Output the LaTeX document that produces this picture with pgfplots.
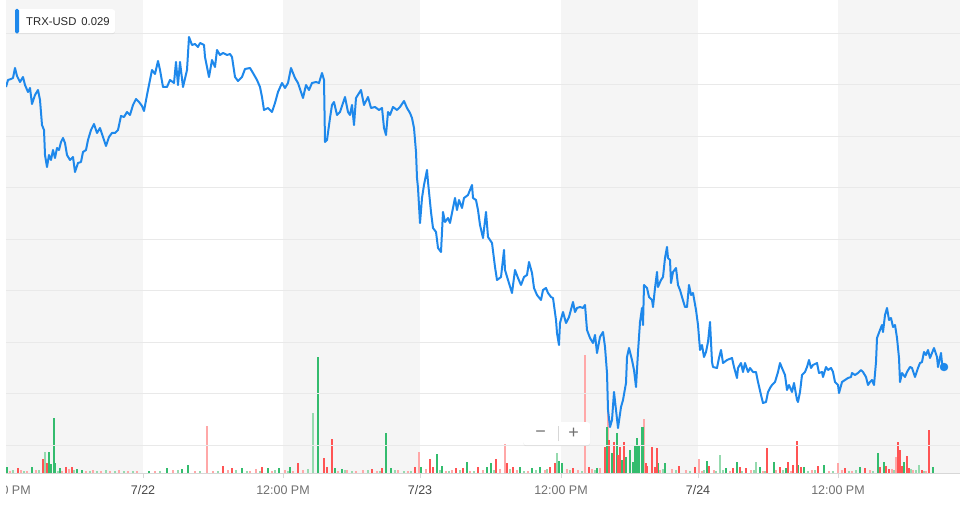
\documentclass[border=0pt]{standalone}
\usepackage{pgfplots}
\pgfplotsset{compat=1.18}
\usepackage{fontspec}
\setmainfont{Liberation Sans}
\usetikzlibrary{shadows}
\definecolor{pricecol}{RGB}{30,136,235}
\definecolor{bandgrey}{RGB}{245,245,245}
\definecolor{gridgrey}{RGB}{233,233,233}
\definecolor{axisgrey}{RGB}{215,215,215}
\definecolor{vgreen}{RGB}{52,188,110}
\definecolor{vgreenl}{RGB}{150,218,175}
\definecolor{vred}{RGB}{255,84,84}
\definecolor{vredl}{RGB}{255,168,168}
\definecolor{datecol}{RGB}{70,70,70}
\definecolor{timecol}{RGB}{112,112,112}
\definecolor{textdark}{RGB}{40,40,40}

\pgfplotstableread{
t p
6 0.03205
8 0.03212
11 0.03213
13 0.03214
15 0.03224
17 0.03216
18 0.03214
20 0.03210
23 0.03215
25 0.03207
28 0.03200
30 0.03204
32 0.03188
35 0.03197
38 0.03202
40 0.03192
42 0.03167
44 0.03162
45 0.03137
47 0.03125
49 0.03137
51 0.03132
53 0.03142
55 0.03134
57 0.03144
59 0.03142
61 0.03150
63 0.03154
65 0.03149
67 0.03137
70 0.03132
73 0.03135
75 0.03120
78 0.03129
81 0.03130
83 0.03140
86 0.03142
88 0.03152
91 0.03162
94 0.03168
97 0.03159
100 0.03164
103 0.03155
106 0.03146
109 0.03155
112 0.03159
115 0.03159
118 0.03162
121 0.03176
124 0.03175
127 0.03180
130 0.03177
133 0.03187
136 0.03193
139 0.03190
142 0.03186
144 0.03181
147 0.03197
150 0.03212
152 0.03222
155 0.03218
158 0.03231
160 0.03222
163 0.03205
167 0.03205
170 0.03212
174 0.03209
176 0.03230
178 0.03207
180 0.03230
183 0.03205
187 0.03222
189 0.03255
192 0.03247
195 0.03248
198 0.03245
200 0.03249
204 0.03247
205 0.03235
209 0.03215
212 0.03232
215 0.03225
217 0.03242
220 0.03237
223 0.03239
227 0.03237
230 0.03238
232 0.03235
235 0.03215
238 0.03211
242 0.03215
245 0.03223
250 0.03224
253 0.03219
257 0.03212
260 0.03205
262 0.03195
264 0.03182
268 0.03184
272 0.03180
275 0.03189
278 0.03200
282 0.03209
285 0.03204
288 0.03209
291 0.03224
295 0.03214
298 0.03209
301 0.03200
303 0.03194
306 0.03207
309 0.03202
312 0.03209
316 0.03210
319 0.03209
322 0.03219
324 0.03212
325 0.03150
327 0.03152
330 0.03174
332 0.03187
334 0.03190
337 0.03177
340 0.03180
345 0.03195
348 0.03180
350 0.03177
352 0.03187
354 0.03167
356 0.03194
361 0.03202
364 0.03187
368 0.03195
371 0.03184
375 0.03185
379 0.03182
382 0.03184
384 0.03164
386 0.03157
388 0.03180
390 0.03177
393 0.03185
397 0.03182
400 0.03185
404 0.03191
407 0.03184
410 0.03179
412 0.03174
414 0.03164
416 0.03140
417 0.03114
418 0.03104
420 0.03069
422 0.03094
424 0.03107
427 0.03122
428 0.03110
431 0.03080
433 0.03064
436 0.03060
438 0.03044
441 0.03040
443 0.03080
445 0.03070
448 0.03074
450 0.03069
452 0.03079
455 0.03094
457 0.03082
459 0.03092
462 0.03084
464 0.03094
468 0.03097
472 0.03107
473 0.03094
476 0.03092
478 0.03082
480 0.03067
483 0.03054
486 0.03080
488 0.03055
492 0.03049
495 0.03025
497 0.03012
501 0.03015
504 0.03042
505 0.03022
508 0.03012
512 0.02999
515 0.03022
518 0.03014
521 0.03007
524 0.03015
527 0.03017
529 0.03030
532 0.03019
534 0.03004
537 0.02997
541 0.02992
543 0.03002
546 0.03004
548 0.02999
551 0.02995
553 0.02994
556 0.02972
557 0.02959
559 0.02947
560 0.02969
563 0.02980
566 0.02969
569 0.02975
573 0.02990
575 0.02980
577 0.02984
580 0.02985
583 0.02984
585 0.02987
587 0.02962
590 0.02954
593 0.02949
595 0.02957
597 0.02939
600 0.02955
603 0.02960
605 0.02945
607 0.02919
608 0.02882
610 0.02865
612 0.02872
614 0.02900
616 0.02882
618 0.02864
621 0.02885
623 0.02892
626 0.02909
627 0.02935
629 0.02944
632 0.02932
634 0.02922
636 0.02905
638 0.02940
640 0.02970
642 0.02984
643 0.02967
644 0.03007
647 0.03004
649 0.02995
652 0.02992
653 0.02985
655 0.03004
657 0.03020
658 0.03005
661 0.03012
663 0.03015
665 0.03034
667 0.03045
668 0.03034
670 0.03032
671 0.03009
673 0.03020
676 0.03024
678 0.03007
680 0.03002
682 0.02995
685 0.02985
687 0.02985
689 0.03007
691 0.02997
693 0.02999
696 0.02982
698 0.02967
700 0.02942
702 0.02947
704 0.02935
706 0.02940
708 0.02950
710 0.02970
712 0.02930
713 0.02925
717 0.02924
719 0.02934
721 0.02942
723 0.02929
727 0.02932
732 0.02934
734 0.02925
737 0.02914
738 0.02924
741 0.02929
743 0.02920
745 0.02929
748 0.02920
750 0.02924
753 0.02920
756 0.02920
758 0.02910
761 0.02897
763 0.02889
766 0.02890
768 0.02900
770 0.02904
772 0.02907
775 0.02910
778 0.02920
780 0.02929
782 0.02924
785 0.02917
787 0.02902
789 0.02907
792 0.02900
794 0.02909
797 0.02892
798 0.02890
800 0.02900
802 0.02917
805 0.02920
807 0.02925
809 0.02932
811 0.02924
813 0.02927
817 0.02929
819 0.02919
822 0.02920
823 0.02915
826 0.02925
828 0.02922
831 0.02924
833 0.02920
835 0.02910
838 0.02907
839 0.02899
842 0.02910
845 0.02912
848 0.02914
851 0.02915
852 0.02919
855 0.02917
858 0.02919
861 0.02922
863 0.02920
866 0.02915
868 0.02907
870 0.02910
872 0.02912
874 0.02907
876 0.02930
877 0.02954
880 0.02962
882 0.02967
883 0.02960
885 0.02977
887 0.02984
889 0.02972
891 0.02974
893 0.02965
895 0.02967
897 0.02954
899 0.02934
900 0.02910
902 0.02919
905 0.02915
907 0.02920
910 0.02925
912 0.02924
915 0.02915
918 0.02924
920 0.02929
922 0.02930
924 0.02940
926 0.02937
928 0.02942
930 0.02934
932 0.02939
934 0.02944
937 0.02935
938 0.02925
941 0.02939
942 0.02929
944 0.02925
}\pricedata

\begin{document}
\begin{tikzpicture}
% ---------- volume axis (bands, bars, time ticks) ----------
\begin{axis}[name=vol, at={(0,0)}, anchor=south west,
  width=954pt, height=473pt, scale only axis,
  xmin=6, xmax=960, ymin=0, ymax=473,
  axis x line=bottom, axis y line=none,
  x axis line style={-, draw=axisgrey, line width=0.8pt},
  xtick={143,283,420,561,698,838},
  xticklabels={\textcolor{datecol}{7/22},\textcolor{timecol}{12:00 PM},\textcolor{datecol}{7/23},\textcolor{timecol}{12:00 PM},\textcolor{datecol}{7/24},\textcolor{timecol}{12:00 PM}},
  tick align=outside, major tick length=5pt,
  xtick style={draw=axisgrey, line width=0.8pt},
  xticklabel style={font=\fontsize{12.5}{14}\selectfont, anchor=north, yshift=-4pt},
  ytick=\empty,
]
\fill[bandgrey] (axis cs:6,0) rectangle (axis cs:143,473);
\fill[bandgrey] (axis cs:283,0) rectangle (axis cs:420,473);
\fill[bandgrey] (axis cs:561,0) rectangle (axis cs:698,473);
\fill[bandgrey] (axis cs:838,0) rectangle (axis cs:960,473);
% small background volume
\addplot[ycomb, vredl, line width=1.2pt, mark=none] coordinates {
(10,2)(21,3)(27,2)(36,3)(62,2)(69,4)(86,2)(93,3)(101,2)(110,2)(119,3)(128,2)(137,2)(155,2)(173,3)(195,2)(213,2)(228,3)(250,2)(256,4)(272,2)(285,3)(293,2)(303,3)(338,2)(347,3)(356,2)(363,3)(377,2)(398,3)(408,2)(426,4)(446,2)(452,3)(470,2)(483,3)(500,4)(517,3)(528,2)(545,3)(567,4)(578,3)(592,4)(600,5)(660,3)(672,4)(686,3)(702,2)(714,3)(730,2)(751,3)(763,2)(776,3)(791,2)(812,3)(829,2)(842,3)(852,2)(870,3)(892,4)(913,3)(926,2)};
\addplot[ycomb, vgreenl, line width=1.2pt, mark=none] coordinates {
(13,3)(24,2)(39,3)(58,2)(74,3)(90,2)(97,2)(106,3)(115,2)(124,2)(133,2)(160,2)(178,3)(200,2)(218,2)(236,3)(247,2)(260,2)(275,3)(288,2)(308,4)(345,3)(352,2)(368,3)(380,2)(395,3)(404,2)(411,2)(440,3)(449,2)(460,3)(474,2)(494,3)(510,4)(524,2)(536,3)(547,4)(570,3)(582,2)(595,3)(663,4)(676,3)(690,2)(704,3)(716,2)(723,3)(742,2)(754,3)(765,2)(783,3)(808,2)(815,3)(833,2)(849,2)(856,3)(873,2)(894,3)(911,4)(916,3)(924,2)};
% light (semi) bars
\addplot[ycomb, vgreenl, line width=1.2pt, mark=none] coordinates {
(45,21)(313,60)(557,20)(720,18)(756,11)(919,8)};
\addplot[ycomb, vredl, line width=1.2pt, mark=none] coordinates {
(207,47)(419,21)(505,29)(585,118)(608,73)(644,54)(699,14)(838,10)(896,16)};
% green bars
\addplot[ycomb, vgreen, line width=1.2pt, mark=none] coordinates {
(7,6)(32,6)(49,21)(51,9)(54,55)(55,10)(60,5)(77,4)(82,3)(149,2)(167,5)(182,4)(188,8)(242,5)(268,5)(279,5)(290,6)(318,116)(335,5)(342,4)(386,40)(391,5)(421,6)(437,19)(442,7)(467,11)(487,6)(491,10)(520,6)(532,5)(540,6)(559,12)(562,10)(597,5)(607,46)(612,20)(617,40)(622,13)(626,16)(630,23)(633,11)(635,28)(637,35)(639,28)(642,46)(643,46)(658,10)(665,10)(707,12)(726,5)(737,11)(760,6)(774,11)(786,5)(798,8)(804,6)(824,8)(860,6)(878,20)(884,11)(904,11)(933,6)};
% red bars
\addplot[ycomb, vred, line width=1.2pt, mark=none] coordinates {
(18,5)(43,14)(47,10)(66,6)(72,6)(223,7)(232,5)(262,6)(298,10)(324,15)(327,6)(332,34)(372,4)(382,5)(415,6)(430,14)(433,6)(456,5)(463,5)(478,6)(496,14)(507,10)(513,6)(550,6)(555,10)(573,5)(589,6)(605,26)(609,33)(614,31)(618,18)(620,26)(624,31)(646,10)(647,7)(652,26)(655,6)(657,25)(679,7)(695,6)(709,7)(733,5)(740,6)(746,5)(767,25)(780,6)(788,11)(793,8)(797,32)(801,6)(818,7)(845,5)(865,5)(880,6)(886,7)(889,4)(898,31)(900,23)(902,7)(907,17)(909,5)(922,3)(929,43)};
\end{axis}
% ---------- price axis ----------
\begin{axis}[name=price, at={(0,0)}, anchor=south west,
  width=954pt, height=473pt, scale only axis,
  xmin=6, xmax=960, ymin=0.02819, ymax=0.03292,
  axis line style={draw=none},
  xtick=\empty,
  ytick={0.03259,0.032075,0.03156,0.031045,0.03053,0.030015,0.0295,0.028985,0.02847},
  yticklabels={}, major tick length=0pt,
  ymajorgrids, grid style={draw=gridgrey, line width=0.9pt},
]
\addplot[pricecol, line width=2pt, line join=round, mark=none] table[x=t, y=p] {\pricedata};
\addplot[only marks, mark=*, mark size=4pt, pricecol, mark options={draw=pricecol, fill=pricecol}] coordinates {(944,0.02925)};
\end{axis}
% leftmost, cut-off time label
\node[anchor=north, font=\fontsize{12.5}{14}\selectfont, text=timecol, inner sep=0.333em]
  at ([xshift=-2pt, yshift=-9pt]vol.south west) {12:00 PM};
\fill[white] ([xshift=-8pt]vol.south west) rectangle ([yshift=-40pt]vol.south west);
% legend box
\node[anchor=north west, fill=white, rounded corners=3pt,
  drop shadow={opacity=0.12, shadow xshift=0pt, shadow yshift=-1pt},
  minimum width=100pt, minimum height=24pt, inner sep=0pt] (leg)
  at ([xshift=9pt, yshift=-9pt]price.north west) {};
\fill[pricecol, rounded corners=1.5pt] (leg.north west) rectangle ([xshift=4pt]leg.south west);
\node[anchor=west, font=\fontsize{11.3}{13}\selectfont, text=textdark, inner sep=0pt]
  at ([xshift=11pt]leg.west) {TRX-USD\hspace{5pt}0.029};
% zoom control
\node[anchor=north west, fill=white, rounded corners=3pt,
  drop shadow={opacity=0.12, shadow xshift=0pt, shadow yshift=-1pt},
  minimum width=67pt, minimum height=23pt, inner sep=0pt] (zm)
  at ([xshift=517pt, yshift=-422pt]price.north west) {};
\draw[draw=axisgrey, line width=0.8pt] ([yshift=4pt]zm.south) ++(1.5pt,0) -- ++(0,15pt);
\node[font=\fontsize{18}{20}\selectfont, text=timecol, inner sep=0pt] at ([xshift=-16pt]zm.center) {−};
\node[font=\fontsize{18}{20}\selectfont, text=timecol, inner sep=0pt] at ([xshift=17pt]zm.center) {+};
\pgfresetboundingbox
\path[use as bounding box] ([xshift=-6pt, yshift=-33pt]vol.south west) rectangle (vol.north east);
\end{tikzpicture}
\end{document}
